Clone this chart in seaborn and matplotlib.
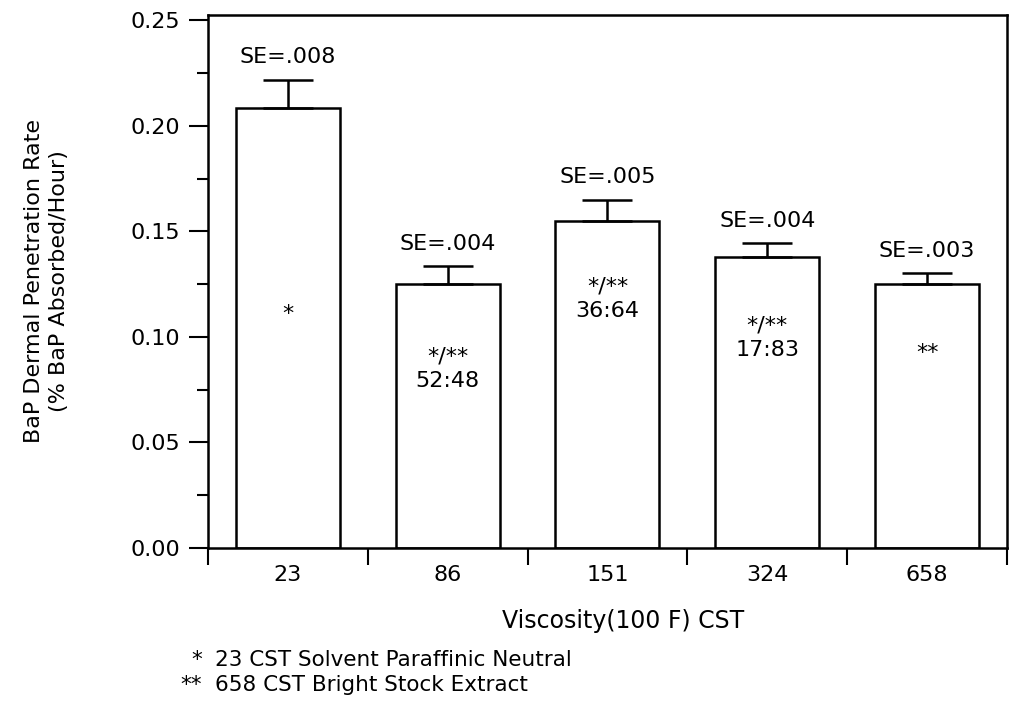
import numpy as np
import pandas as pd
import matplotlib.pyplot as plt
from matplotlib.ticker import MultipleLocator, FixedLocator
import seaborn as sns

# values
viscosity = ["23", "86", "151", "324", "658"]
penetration_rate = [0.2085, 0.125, 0.155, 0.1377, 0.125]
error_up = [0.0132, 0.0085, 0.0099, 0.0066, 0.0052]
se_labels = ["SE=.008", "SE=.004", "SE=.005", "SE=.004", "SE=.003"]
inner_labels = ["*", "*/**\n52:48", "*/**\n36:64", "*/**\n17:83", "**"]
inner_label_y = [0.111, 0.085, 0.118, 0.0995, 0.0925]
footnotes = ["*", "**"]
footnote_text = ["23 CST Solvent Paraffinic Neutral", "658 CST Bright Stock Extract"]

df = pd.DataFrame({"viscosity": viscosity, "rate": penetration_rate})

sns.set_style("ticks")
plt.rcParams["font.family"] = ["DejaVu Sans"]
plt.rcParams["text.color"] = "black"
plt.rcParams["axes.labelcolor"] = "black"

fig = plt.figure(figsize=(10.09, 7.09), dpi=100, facecolor="white")
ax = fig.add_axes([0.206, 0.227, 0.792, 0.752])

sns.barplot(data=df, x="viscosity", y="rate", color="white", edgecolor="black",
            linewidth=1.8, width=0.65, ax=ax, errorbar=None, saturation=1)

# upward-only standard error bars
xpos = np.arange(len(viscosity))
ax.errorbar(xpos, penetration_rate, yerr=[np.zeros(len(error_up)), error_up],
            fmt="none", ecolor="black", elinewidth=1.8, capsize=18, capthick=1.8, zorder=3)

for i in range(len(viscosity)):
    top = penetration_rate[i] + error_up[i]
    ax.annotate(se_labels[i], (xpos[i], top), xytext=(0, 9), textcoords="offset points",
                ha="center", va="bottom", fontsize=16, color="black")
    ax.text(xpos[i], inner_label_y[i], inner_labels[i], ha="center", va="center",
            fontsize=16, linespacing=1.3, color="black")

ax.set_xlim(-0.5, 4.5)
ax.set_ylim(0, 0.2525)
ax.yaxis.set_major_locator(MultipleLocator(0.05))
ax.yaxis.set_minor_locator(MultipleLocator(0.025))
ax.xaxis.set_minor_locator(FixedLocator(np.arange(-0.5, 5.0, 1.0)))
ax.set_yticks(np.arange(0, 0.26, 0.05))
ax.set_yticklabels([f"{v:.2f}" for v in np.arange(0, 0.26, 0.05)])

ax.tick_params(axis="y", which="major", direction="out", length=14, width=1.5,
               labelsize=16, pad=6, colors="black")
ax.tick_params(axis="y", which="minor", direction="out", length=8, width=1.5, colors="black")
ax.tick_params(axis="x", which="major", length=0, labelsize=16, pad=12, labelcolor="black")
ax.tick_params(axis="x", which="minor", direction="out", length=12, width=1.5, colors="black")

for side in ["left", "right", "top", "bottom"]:
    ax.spines[side].set_visible(True)
    ax.spines[side].set_linewidth(1.8)
    ax.spines[side].set_color("black")

ax.set_xlabel("Viscosity(100 F) CST", fontsize=17)
ax.xaxis.set_label_coords(0.52, -0.115)
ax.set_ylabel("BaP Dermal Penetration Rate\n(% BaP Absorbed/Hour)", fontsize=16, labelpad=44,
              linespacing=1.3)

for k in range(len(footnotes)):
    fig.text(0.200, 0.069 - k * 0.035, footnotes[k], ha="right", va="center", fontsize=15.5)
    fig.text(0.213, 0.069 - k * 0.035, footnote_text[k], ha="left", va="center", fontsize=15.5)

fig.savefig("out.png", dpi=100, facecolor="white")
